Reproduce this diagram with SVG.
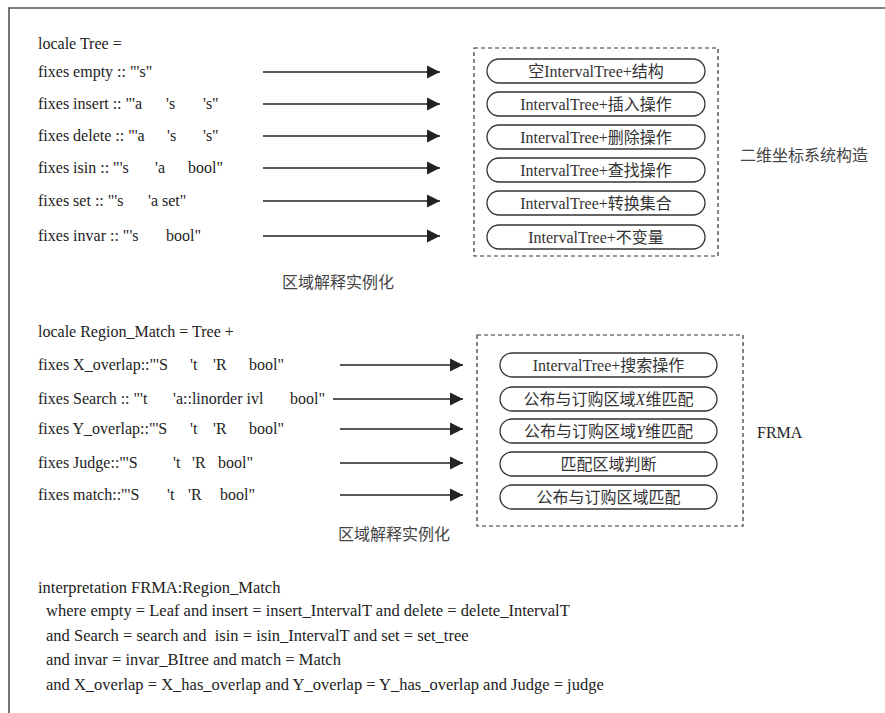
<svg xmlns="http://www.w3.org/2000/svg" width="885" height="713" viewBox="0 0 885 713">
<defs>
<marker id="ah" markerWidth="14" markerHeight="14" refX="13" refY="7" orient="auto" markerUnits="userSpaceOnUse">
<path d="M0,0.5 L13,7 L0,13.5 Z" fill="#222"/>
</marker>
<style>
.t{font-family:"Liberation Serif","Noto Sans CJK SC",serif;font-size:16px;fill:#222}
.b{font-family:"Liberation Serif","Noto Sans CJK SC",serif;font-size:16.5px;fill:#222}
.p{font-family:"Liberation Serif","Noto Sans CJK SC",serif;font-size:16px;fill:#333;text-anchor:middle}
.lbl{font-family:"Liberation Serif","Noto Sans CJK SC",serif;font-size:16px;fill:#444}
.pill{fill:none;stroke:#333;stroke-width:1.3}
.dash{fill:none;stroke:#333;stroke-width:1.2;stroke-dasharray:4,3}
.arr{stroke:#222;stroke-width:1.4;fill:none;marker-end:url(#ah)}
</style>
</defs>
<rect width="885" height="713" fill="#fff"/>
<path d="M9,713 V8 H885" fill="none" stroke="#555" stroke-width="1.6"/>

<g id="tree-code">
<text class="t" x="38" y="49">locale Tree =</text>
<text class="t" y="77"><tspan x="38">fixes empty :: "'s"</tspan></text>
<text class="t" y="109"><tspan x="38">fixes insert :: "'a</tspan><tspan x="166">'s</tspan><tspan x="203">'s"</tspan></text>
<text class="t" y="141"><tspan x="38">fixes delete :: "'a</tspan><tspan x="167">'s</tspan><tspan x="203">'s"</tspan></text>
<text class="t" y="173"><tspan x="38">fixes isin :: "'s</tspan><tspan x="155">'a</tspan><tspan x="188">bool"</tspan></text>
<text class="t" y="206"><tspan x="38">fixes set :: "'s</tspan><tspan x="148">'a set"</tspan></text>
<text class="t" y="241"><tspan x="38">fixes invar :: "'s</tspan><tspan x="166">bool"</tspan></text>
</g>

<g id="region-code">
<text class="t" x="38" y="337">locale Region_Match = Tree +</text>
<text class="t" y="370"><tspan x="38">fixes X_overlap::"'S</tspan><tspan x="190">'t</tspan><tspan x="213">'R</tspan><tspan x="249">bool"</tspan></text>
<text class="t" y="404"><tspan x="38">fixes Search :: "'t</tspan><tspan x="173">'a::linorder ivl</tspan><tspan x="290">bool"</tspan></text>
<text class="t" y="434"><tspan x="38">fixes Y_overlap::"'S</tspan><tspan x="190">'t</tspan><tspan x="213">'R</tspan><tspan x="249">bool"</tspan></text>
<text class="t" y="468"><tspan x="38">fixes Judge::"'S</tspan><tspan x="173">'t</tspan><tspan x="192">'R</tspan><tspan x="218">bool"</tspan></text>
<text class="t" y="500"><tspan x="38">fixes match::"'S</tspan><tspan x="167">'t</tspan><tspan x="188">'R</tspan><tspan x="220">bool"</tspan></text>
</g>

<g id="connectors">
<line class="arr" x1="263" y1="72" x2="440" y2="72"/>
<line class="arr" x1="263" y1="104" x2="440" y2="104"/>
<line class="arr" x1="263" y1="136" x2="440" y2="136"/>
<line class="arr" x1="263" y1="168" x2="440" y2="168"/>
<line class="arr" x1="263" y1="201" x2="440" y2="201"/>
<line class="arr" x1="263" y1="236" x2="440" y2="236"/>
<line class="arr" x1="340" y1="365" x2="463" y2="365"/>
<line class="arr" x1="333" y1="399" x2="463" y2="399"/>
<line class="arr" x1="340" y1="429" x2="463" y2="429"/>
<line class="arr" x1="340" y1="463" x2="463" y2="463"/>
<line class="arr" x1="340" y1="495" x2="463" y2="495"/>
</g>

<g id="box-tree">
<rect class="dash" x="474" y="48" width="244" height="208"/>
<text class="lbl" x="740" y="161">二维坐标系统构造</text>
</g>
<g id="n-empty"><rect class="pill" x="487" y="59" width="218" height="24" rx="12"/><text class="p" x="596" y="77">空IntervalTree+结构</text></g>
<g id="n-insert"><rect class="pill" x="487" y="92" width="218" height="24" rx="12"/><text class="p" x="596" y="110">IntervalTree+插入操作</text></g>
<g id="n-delete"><rect class="pill" x="487" y="125" width="218" height="24" rx="12"/><text class="p" x="596" y="143">IntervalTree+删除操作</text></g>
<g id="n-isin"><rect class="pill" x="487" y="158" width="218" height="24" rx="12"/><text class="p" x="596" y="176">IntervalTree+查找操作</text></g>
<g id="n-set"><rect class="pill" x="487" y="191" width="218" height="24" rx="12"/><text class="p" x="596" y="209">IntervalTree+转换集合</text></g>
<g id="n-invar"><rect class="pill" x="487" y="225" width="218" height="24" rx="12"/><text class="p" x="596" y="243">IntervalTree+不变量</text></g>
<g id="lbl-1"><text class="lbl" x="282" y="288">区域解释实例化</text></g>

<g id="box-frma">
<rect class="dash" x="477" y="335" width="266" height="191"/>
<text class="t" x="757" y="438">FRMA</text>
</g>
<g id="n-search"><rect class="pill" x="500" y="353" width="217" height="24" rx="12"/><text class="p" x="608.5" y="371">IntervalTree+搜索操作</text></g>
<g id="n-xmatch"><rect class="pill" x="500" y="387" width="217" height="24" rx="12"/><text class="p" x="608.5" y="405">公布与订购区域<tspan font-style="italic">X</tspan>维匹配</text></g>
<g id="n-ymatch"><rect class="pill" x="500" y="419" width="217" height="24" rx="12"/><text class="p" x="608.5" y="437">公布与订购区域<tspan font-style="italic">Y</tspan>维匹配</text></g>
<g id="n-judge"><rect class="pill" x="500" y="452" width="217" height="24" rx="12"/><text class="p" x="608.5" y="470">匹配区域判断</text></g>
<g id="n-match"><rect class="pill" x="500" y="485" width="217" height="24" rx="12"/><text class="p" x="608.5" y="503">公布与订购区域匹配</text></g>
<g id="lbl-2"><text class="lbl" x="338" y="540">区域解释实例化</text></g>

<g id="interp">
<text class="b" x="38" y="593">interpretation FRMA:Region_Match</text>
<text class="b" x="46" y="616">where empty = Leaf and insert = insert_IntervalT and delete = delete_IntervalT</text>
<text class="b" x="46" y="641" xml:space="preserve">and Search = search and  isin = isin_IntervalT and set = set_tree</text>
<text class="b" x="46" y="665">and invar = invar_BItree and match = Match</text>
<text class="b" x="46" y="690">and X_overlap = X_has_overlap and Y_overlap = Y_has_overlap and Judge = judge</text>
</g>
</svg>
